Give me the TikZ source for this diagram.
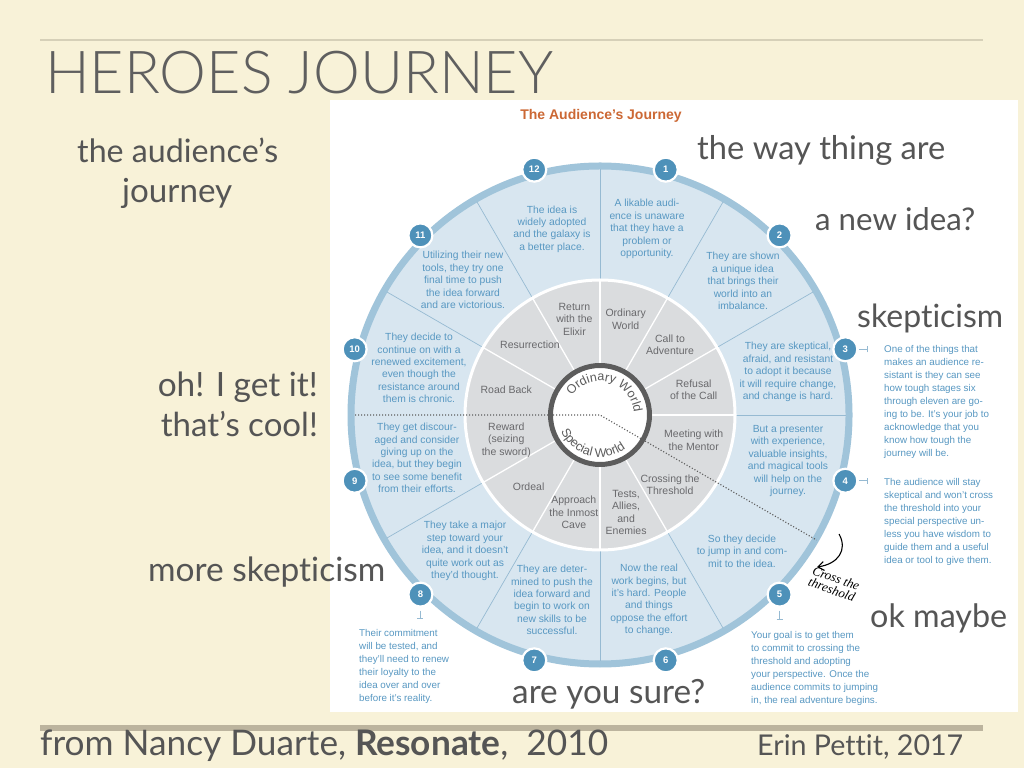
\documentclass[tikz,border=0pt]{standalone}
\usepackage{fontspec}
\usepackage{graphicx}
\setmainfont{Liberation Sans}
\newfontfamily\slidefont[Ligatures=NoCommon]{Lato}
\IfFontExistsTF{Lato Light}{\newfontfamily\titlefont[Ligatures=NoCommon]{Lato Light}}{\newfontfamily\titlefont[Ligatures=NoCommon]{Lato}}
\newfontfamily\handfont{Liberation Serif}
\usetikzlibrary{calc,decorations.text,arrows.meta}

\definecolor{bg}{RGB}{248,242,216}
\definecolor{toplinec}{RGB}{214,208,184}
\definecolor{botlinec}{RGB}{188,180,158}
\definecolor{slidegray}{RGB}{85,85,85}
\definecolor{titlegray}{RGB}{95,95,95}
\definecolor{outerfill}{RGB}{216,230,240}
\definecolor{bandc}{RGB}{160,196,218}
\definecolor{divc}{RGB}{150,186,210}
\definecolor{innergray}{RGB}{218,220,222}
\definecolor{labelgray}{RGB}{105,105,108}
\definecolor{ringdark}{RGB}{92,92,92}
\definecolor{numblue}{RGB}{78,145,185}
\definecolor{chartblue}{RGB}{88,152,194}
\definecolor{orangett}{RGB}{204,104,52}

\tikzset{
  slide/.style={inner sep=0, text=slidegray, font=\slidefont\fontsize{28}{28}\selectfont},
  outertxt/.style={inner sep=0, align=center, text=chartblue, font=\fontsize{10.3}{12.4}\selectfont},
  innertxt/.style={inner sep=0, align=center, text=labelgray, font=\fontsize{10.5}{12.4}\selectfont},
  notetxt/.style={inner sep=0, align=left, anchor=west, text=chartblue, font=\fontsize{9.8}{13}\selectfont},
  numc/.style={circle, fill=numblue, draw=white, line width=2.2pt, minimum size=24pt, inner sep=0,
    text=white, font=\bfseries\fontsize{9.5}{9.5}\selectfont},
  tickline/.style={draw=divc, line width=0.8pt},
  dotline/.style={draw=ringdark, line width=1.1pt, dash pattern=on 1.1pt off 1.9pt},
}

\begin{document}
\begin{tikzpicture}[x=1pt, y=1pt]
\useasboundingbox (0,0) rectangle (1024,768);
\fill[bg] (0,0) rectangle (1024,768);
\draw[toplinec, line width=2pt] (40,728) -- (983,728);
\draw[botlinec, line width=6pt] (40,40) -- (983,40);
\fill[white] (330,56) rectangle (1018,668);

% ---- wheel ----
\coordinate (C) at (600,353);
\fill[outerfill] (C) circle (249);
\draw[bandc, line width=7pt] (C) circle (249);
\foreach \a in {90,60,30,0,-60,-90,-120,-150,150,120}
  \draw[divc, line width=0.7pt] ($(C)+(\a:136)$) -- ($(C)+(\a:246)$);
\fill[innergray] (C) circle (135);
\draw[white, line width=3pt] (C) circle (135);
\foreach \a in {90,60,30,0,-60,-90,-120,-150,150,120}
  \draw[white, line width=1.3pt] ($(C)+(\a:50)$) -- ($(C)+(\a:134)$);
\draw[ringdark, line width=5pt, fill=white] (C) circle (49.5);

\coordinate (dl) at ($(C)+(180:245)$);
\coordinate (dr) at ($(C)+(-30:250)$);
\draw[dotline] (dl) -- (C) -- (dr);

\path[decorate, decoration={text along path, text align=center,
  text={|\fontsize{12.5}{12.5}\selectfont\color{ringdark}|Ordinary World}}]
  ($(C)+(160:34)$) arc[start angle=160, end angle=-10, radius=34];
\path[decorate, decoration={text along path, text align=center,
  text={|\fontsize{12.5}{12.5}\selectfont\color{ringdark}|Special World}}]
  ($(C)+(-190:42)$) arc[start angle=-190, end angle=-20, radius=42];

% numbers
\foreach \k in {1,...,12}{
  \pgfmathsetmacro\ang{75-30*(\k-1)}
  \node[numc] (n\k) at ($(C)+(\ang:254)$) {\k};
}

% chart title
\node[inner sep=0, text=orangett, font=\bfseries\fontsize{14}{14}\selectfont] (ctitle) at (601,652) {The Audience’s Journey};

% inner labels
\node[innertxt] (s1) at ($(C)+(75:99)$) {Ordinary\\World};
\node[innertxt] (s2) at ($(C)+(45:99)$) {Call to\\Adventure};
\node[innertxt] (s3) at ($(C)+(15:97)$) {Refusal\\of the Call};
\node[innertxt] (s4) at ($(C)+(-15:97)$) {Meeting with\\the Mentor};
\node[innertxt] (s5) at ($(C)+(-45:99)$) {Crossing the\\Threshold};
\node[innertxt] (s6) at ($(C)+(-75:101)$) {Tests,\\Allies,\\and\\Enemies};
\node[innertxt] (s7) at ($(C)+(-105:101)$) {Approach\\the Inmost\\Cave};
\node[innertxt] (s8) at ($(C)+(-135:101)$) {Ordeal};
\node[innertxt] (s9) at ($(C)+(-165:97)$) {Reward\\(seizing\\the sword)};
\node[innertxt] (s10) at ($(C)+(165:97)$) {Road Back};
\node[innertxt] (s11) at ($(C)+(135:99)$) {Resurrection};
\node[innertxt] (s12) at ($(C)+(105:99)$) {Return\\with the\\Elixir};

% outer texts
\node[outertxt] (o1) at (647,539) {A likable audi-\\ence is unaware\\that they have a\\problem or\\opportunity.};
\node[outertxt] (o2) at (743,487) {They are shown\\a unique idea\\that brings their\\world into an\\imbalance.};
\node[outertxt] (o3) at (788,396) {They are skeptical,\\afraid, and resistant\\to adopt it because\\it will require change,\\and change is hard.};
\node[outertxt] (o4) at (788,307) {But a presenter\\with experience,\\valuable insights,\\and magical tools\\will help on the\\journey.};
\node[outertxt] (o5) at (742,217) {So they decide\\to jump in and com-\\mit to the idea.};
\node[outertxt] (o6) at (649,168) {Now the real\\work begins, but\\it’s hard. People\\and things\\oppose the effort\\to change.};
\node[outertxt] (o7) at (552,168) {They are deter-\\mined to push the\\idea forward and\\begin to work on\\new skills to be\\successful.};
\node[outertxt] (o8) at (465,217) {They take a major\\step toward your\\idea, and it doesn’t\\quite work out as\\they’d thought.};
\node[outertxt] (o9) at (417,310) {They get discour-\\aged and consider\\giving up on the\\idea, but they begin\\to see some benefit\\from their efforts.};
\node[outertxt] (o10) at (419,400) {They decide to\\continue on with a\\renewed excitement,\\even though the\\resistance around\\them is chronic.};
\node[outertxt] (o11) at (463,488) {Utilizing their new\\tools, they try one\\final time to push\\the idea forward\\and are victorious.};
\node[outertxt] (o12) at (552,539) {The idea is\\widely adopted\\and the galaxy is\\a better place.};

% side notes
\node[notetxt] (a3) at (884,366.5) {One of the things that\\makes an audience re-\\sistant is they can see\\how tough stages six\\through eleven are go-\\ing to be. It’s your job to\\acknowledge that you\\know how tough the\\journey will be.};
\node[notetxt] (a4) at (884,246.5) {The audience will stay\\skeptical and won’t cross\\the threshold into your\\special perspective un-\\less you have wisdom to\\guide them and a useful\\idea or tool to give them.};
\node[notetxt] (a8) at (359,101.5) {Their commitment\\will be tested, and\\they’ll need to renew\\their loyalty to the\\idea over and over\\before it’s reality.};
\node[notetxt] (a5) at (751,100) {Your goal is to get them\\to commit to crossing the\\threshold and adopting\\your perspective. Once the\\audience commits to jumping\\in, the real adventure begins.};

% ticks
\draw[tickline] ($(n3.east)+(1,0)$) -- ($(n3.east)+(9,0)$);
\draw[tickline] ($(n3.east)+(9,-3)$) -- ($(n3.east)+(9,3)$);
\draw[tickline] ($(n4.east)+(1,0)$) -- ($(n4.east)+(9,0)$);
\draw[tickline] ($(n4.east)+(9,-3)$) -- ($(n4.east)+(9,3)$);
\draw[tickline] ($(n8.south)+(0,-3)$) -- ($(n8.south)+(0,-11)$);
\draw[tickline] ($(n8.south)+(-3,-11)$) -- ($(n8.south)+(3,-11)$);
\draw[tickline] ($(n5.south)+(0,-3)$) -- ($(n5.south)+(0,-12)$);
\draw[tickline] ($(n5.south)+(-3,-12)$) -- ($(n5.south)+(3,-12)$);

% handwritten note
\coordinate (ha) at (839,234);
\coordinate (hb) at (817,201);
\draw[black, line width=1.1pt, -{Straight Barb[length=6pt, width=9pt]}] (ha) .. controls (848,218) and (838,204) .. (hb);
\node[inner sep=0, align=left, rotate=-20, font=\handfont\itshape\fontsize{13}{12}\selectfont] (hand) at (834,184) {Cross the\\threshold};

% slide texts
\node[slide, anchor=base west, text=titlegray, font=\titlefont\fontsize{28}{28}\selectfont] (title) at (45,674) {\resizebox{508pt}{!}{HEROES JOURNEY}};
\node[slide, anchor=base west] (aj1) at (77,605) {\resizebox{201pt}{!}{the audience’s}};
\node[slide, anchor=base west] (aj2) at (122,565) {\resizebox{110pt}{!}{journey}};
\node[slide, anchor=base west] (w1) at (697,608) {\resizebox{248pt}{!}{the way thing are}};
\node[slide, anchor=base west] (w2) at (815,537) {\resizebox{160pt}{!}{a new idea?}};
\node[slide, anchor=base west] (w3) at (857,440) {\resizebox{146pt}{!}{skepticism}};
\node[slide, anchor=base east] (w9a) at (318,371) {\resizebox{160pt}{!}{oh! I get it!}};
\node[slide, anchor=base east] (w9b) at (318,331) {\resizebox{157pt}{!}{that’s cool!}};
\node[slide, anchor=base west] (w8) at (148,186) {\resizebox{237pt}{!}{more skepticism}};
\node[slide, anchor=base west] (w5) at (870,141) {\resizebox{137pt}{!}{ok maybe}};
\node[slide, anchor=base west] (w7) at (512,65) {\resizebox{193pt}{!}{are you sure?}};
\node[slide, anchor=base west] (f1) at (40,13) {\resizebox{568pt}{!}{from Nancy Duarte, \textbf{Resonate},~ 2010}};
\node[slide, anchor=base west] (f2) at (757,13) {\resizebox{206pt}{!}{Erin Pettit, 2017}};
\end{tikzpicture}
\end{document}
